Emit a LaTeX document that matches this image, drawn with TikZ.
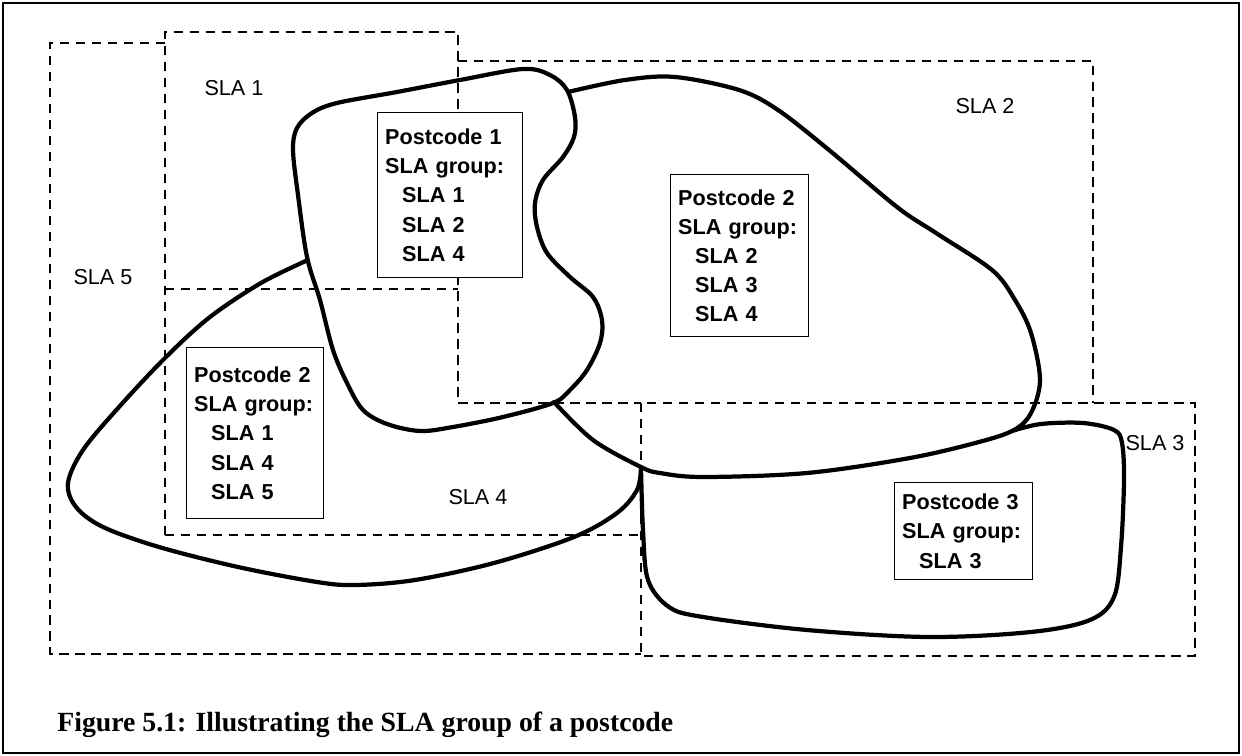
\documentclass[tikz,border=0pt]{standalone}
\usepackage{fontspec}
\setmainfont{Liberation Serif}
\setsansfont{Liberation Sans}
\newcommand{\slaind}{\hspace*{0.34cm}}
\begin{document}
\begin{tikzpicture}[x=0.02cm,y=-0.02cm,
    slaline/.style={line width=1.35pt,dash pattern=on 5.4pt off 3.7pt},
    region/.style={line width=2.4pt,line join=round,line cap=round},
    slalabel/.style={font=\sffamily\fontsize{12.3}{14}\selectfont,inner sep=0pt},
    pcbox/.style={draw,fill=white,line width=0.8pt,anchor=north west,align=left,
      inner xsep=0.15cm,inner ysep=0pt,
      font=\sffamily\bfseries\fontsize{12.3}{16.6}\selectfont}]
  \useasboundingbox (0,0) rectangle (1242,756);
  \draw[line width=1.3pt] (3,3) rectangle (1239,753);

  \draw[slaline] (165,43) -- (50,43) -- (50,654) -- (641,654);
  \draw[slaline] (165,535) -- (165,32) -- (458,32) -- (458,403) -- (641,403);
  \draw[slaline] (165,289) -- (458,289);
  \draw[slaline] (165,535) -- (641,535);
  \draw[slaline] (458,61) -- (1093,61) -- (1093,403);
  \draw[slaline] (641,403) rectangle (1195,656);

  \draw[region] plot[smooth cycle,tension=0.55] coordinates {(293,150) (297,128)
    (312,113) (337,103) (397,92) (460,80) (523,69) (550,75) (567,90) (575,117)
    (574,137) (563,157) (543,180) (535,203) (537,227) (547,253) (570,277) (593,297)
    (602,320) (600,343) (587,370) (570,390) (553,403) (503,417) (453,427) (420,431)
    (387,424) (363,410) (347,383) (333,350) (320,300) (307,257) (298,195)};
  \draw[region] plot[smooth,tension=0.55] coordinates {(568,92) (625,80) (675,77)
    (739,90) (778,110) (829,150) (897,207) (936,233) (992,270) (1015,300) (1031,333)
    (1040,380) (1031,413) (1014,430) (979,442) (910,458) (807,473) (703,477) (660,473)
    (641,467) (593,440) (554,402)};
  \draw[region] plot[smooth,tension=0.55] coordinates {(308,260) (261,283) (210,317)
    (166,357) (119,407) (83,450) (68,483) (76,507) (103,527) (159,547) (238,567)
    (317,582) (356,585) (415,580) (494,563) (574,537) (617,513) (637,490) (641,468)};
  \draw[region] plot[smooth,tension=0.55] coordinates {(641,468) (643,530) (648,580)
    (669,607) (703,617) (807,630) (928,637) (1031,632) (1090,620) (1114,597)
    (1121,547) (1124,480) (1122,443) (1114,430) (1083,423) (1041,424) (1012,431)};

  \node[slalabel] (sla1) at (234,88) {SLA 1};
  \node[slalabel] (sla2) at (985,106) {SLA 2};
  \node[slalabel] (sla3) at (1155,443) {SLA 3};
  \node[slalabel] (sla4) at (478,497) {SLA 4};
  \node[slalabel] (sla5) at (103,277) {SLA 5};

  \node[pcbox,text width=2.6cm,minimum height=3.3cm] (pc1) at (377,112)
    {Postcode 1\\SLA group:\\\slaind SLA 1\\\slaind SLA 2\\\slaind SLA 4};
  \node[pcbox,text width=2.46cm,minimum height=3.24cm] (pc2) at (670,174)
    {Postcode 2\\SLA group:\\\slaind SLA 2\\\slaind SLA 3\\\slaind SLA 4};
  \node[pcbox,text width=2.44cm,minimum height=3.42cm] (pc2b) at (186,347)
    {Postcode 2\\SLA group:\\\slaind SLA 1\\\slaind SLA 4\\\slaind SLA 5};
  \node[pcbox,text width=2.46cm,minimum height=1.94cm] (pc3) at (894,482)
    {Postcode 3\\SLA group:\\\slaind SLA 3};

  \node[anchor=base west,inner sep=0pt,font=\bfseries\fontsize{15.8}{18}\selectfont]
    (caption) at (57,732) {Figure 5.1: Illustrating the SLA group of a postcode};
\end{tikzpicture}
\end{document}
